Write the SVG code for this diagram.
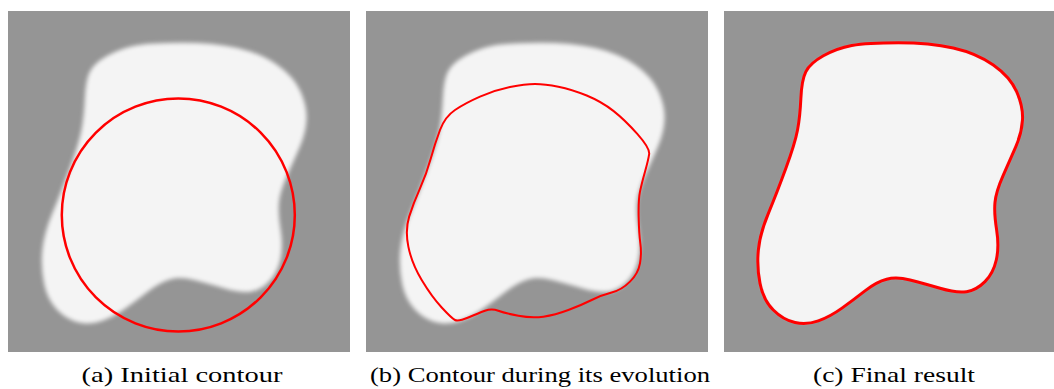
<svg xmlns="http://www.w3.org/2000/svg" xmlns:xlink="http://www.w3.org/1999/xlink" width="1054" height="389" viewBox="0 0 1054 389">
<style>
.bg{fill:#959595}
.blob{fill:#f4f4f4}
.red{fill:none;stroke:#ff0000;stroke-linejoin:round}
.cap{font-size:22px;fill:#000;text-anchor:middle}
</style>
<defs>
<filter id="soft" x="-10%" y="-10%" width="120%" height="120%"><feGaussianBlur stdDeviation="2"/></filter>
<filter id="softc" x="-10%" y="-10%" width="120%" height="120%"><feGaussianBlur stdDeviation="1.2"/></filter>
<path id="blobShape" d="M127.7,45.5 Q142.7,42.7 174.35,42.7 Q206,42.7 229.35,48 Q252.7,53.3 269.35,65 Q286,76.7 292.65,91.7 Q299.3,106.7 298.5,120 Q297.7,133.3 291.85,146.65 Q286,160 279,175.85 Q272,191.7 271,202.5 Q270,213.3 272.65,230 Q275.3,246.7 272.3,260 Q269.3,273.3 261,281.65 Q252.7,290 242.7,291.65 Q232.7,293.3 216,288.3 Q199.3,283.3 186,280 Q172.7,276.7 162.7,279.2 Q152.7,281.7 141,290.85 Q129.3,300 117.650,308.35 Q106,316.7 94.35,320.85 Q82.7,325 71,322.5 Q59.3,320 49.3,310 Q39.3,300 36,283.35 Q32.7,266.7 34.35,250 Q36,233.3 44.35,213.3 Q52.7,193.3 61.85,168.3 Q71,143.3 73.5,130 Q76,116.7 76.85,98.35 Q77.7,80 81.85,71.65 Q86,63.3 99.35,55.8 Q112.7,48.3 127.7,45.5 Z"/>
<path id="midContour" d="M144,87 Q159,84 169,84 Q179,84 192.35,86.65 Q205.7,89.3 220.7,95.5 Q235.7,101.7 247.35,110.85 Q259,120 271.5,134.15 Q284,148.3 283.15,154.15 Q282.3,160 279,171.65 Q275.7,183.3 274,191.65 Q272.3,200 272.65,216.65 Q273,233.3 274.35,243.3 Q275.7,253.3 274,263.3 Q272.3,273.3 264,281.65 Q255.7,290 245.7,292.5 Q235.7,295 225.7,300 Q215.7,305 202.35,310 Q189,315 177.35,316.65 Q165.7,318.3 152.35,315.8 Q139,313.3 132.35,310.8 Q125.7,308.3 119,310.8 Q112.3,313.3 102.3,317.5 Q92.3,321.7 89,320 Q85.7,318.3 75.7,307.5 Q65.7,296.7 55.7,280 Q45.7,263.3 42.35,246.65 Q39,230 43.15,216.65 Q47.3,203.3 54,188.3 Q60.7,173.3 64.85,158.3 Q69,143.3 74,130 Q79,116.7 89,110 Q99,103.3 114,96.65 Q129,90 144,87 Z"/>
</defs>
<rect width="1054" height="389" fill="#ffffff"/>
<g id="panel-a">
<rect class="bg" x="8" y="11" width="342" height="341"/>
<use xlink:href="#blobShape" class="blob" transform="translate(8,0)" filter="url(#soft)"/>
<circle class="red" cx="178.3" cy="215" r="116.5" stroke-width="2.5"/>
<text class="cap" font-family="Liberation Serif, Times New Roman, serif" x="182" y="382" textLength="201" lengthAdjust="spacingAndGlyphs">(a) Initial contour</text>
</g>
<g id="panel-b">
<rect class="bg" x="366" y="11" width="342" height="341"/>
<use xlink:href="#blobShape" class="blob" transform="translate(366,0)" filter="url(#soft)"/>
<use xlink:href="#midContour" class="red" transform="translate(366,0)" stroke-width="2"/>
<text class="cap" font-family="Liberation Serif, Times New Roman, serif" x="540" y="382" textLength="340" lengthAdjust="spacingAndGlyphs">(b) Contour during its evolution</text>
</g>
<g id="panel-c">
<rect class="bg" x="724" y="11" width="330" height="341"/>
<use xlink:href="#blobShape" class="blob" transform="translate(724,0)" filter="url(#softc)"/>
<use xlink:href="#blobShape" class="red" transform="translate(724,0)" stroke-width="3"/>
<text class="cap" font-family="Liberation Serif, Times New Roman, serif" x="894" y="382" textLength="162" lengthAdjust="spacingAndGlyphs">(c) Final result</text>
</g>
</svg>
